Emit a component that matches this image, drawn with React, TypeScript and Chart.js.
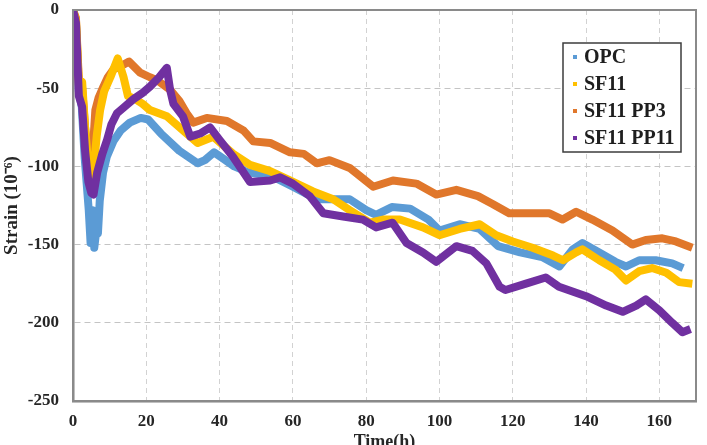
import { useEffect, useRef } from "react";
import { Chart, registerables } from "chart.js";

Chart.register(...registerables);

// Measured strain (10^-6) against elapsed time (h) for each mix.
const opcTime = [0, 0.8, 1.6, 2.4, 3.2, 4.3, 4.8, 5.3, 5.8, 6.4, 6.8, 7.3, 8.2, 9.2, 11, 13, 15.5, 18.5, 20.5, 24, 29, 34, 36, 38.5, 41, 44, 48, 54, 60, 66.5, 70, 75.5, 80, 82.7, 87, 92, 97, 100, 105.5, 111, 116, 122, 128, 132.7, 136.4, 139, 143.6, 148, 150.9, 154.5, 159, 163.5, 166.5];
const opcStrain = [0, -8, -52, -62, -95, -128, -149, -128, -152, -140, -143, -122, -104, -94, -84, -77, -72, -69, -70, -79, -90, -98, -96, -91, -95, -100, -104, -106, -113, -121, -121, -121, -128, -131, -126, -127, -134, -141, -137, -140, -151, -155, -158, -164, -153, -149, -155, -161, -164, -160, -160, -162, -165];

const sf11Time = [0, 0.8, 1.6, 2.5, 3.3, 4.2, 4.8, 5.6, 6.5, 7.4, 8.5, 10.2, 12.2, 13.8, 15, 17, 19, 21, 25.6, 31, 34, 38.3, 43.7, 48.3, 53.8, 59.2, 65.5, 71, 75.5, 81, 84.6, 89.2, 95.5, 100, 105.5, 111, 115.5, 120, 125.4, 131, 133.7, 137.3, 139, 143.6, 148, 150.9, 154.5, 158, 161.9, 165.4, 169];
const sf11Strain = [0, -6, -48, -46, -75, -100, -112, -102, -80, -64, -52, -43, -31, -43, -55, -57, -60, -64, -68, -79, -85, -81, -92, -99, -103, -109, -116, -121, -128, -136, -134, -134, -139, -144, -140, -137, -144, -148, -152, -157, -160, -155, -153, -160, -166, -173, -167, -165, -168, -174, -175];

const sf11pp3Time = [0, 0.8, 1.6, 2.5, 3.3, 4.0, 4.7, 5.4, 6.1, 7, 8.3, 9.5, 11, 13, 15.3, 18.3, 21, 23, 26.5, 29, 31, 32.8, 36.5, 42, 46.5, 49.2, 53.8, 59.2, 63, 66.5, 70, 75.5, 81.9, 87.3, 93.7, 99.1, 104.6, 110.5, 114.5, 119, 123.6, 130, 133.6, 137.3, 141.7, 147.2, 152.6, 156.3, 160.8, 164.5, 169];
const sf11pp3Strain = [0, -5, -45, -50, -75, -95, -107, -90, -64, -56, -49, -43, -38, -36, -33, -40, -43, -45, -51, -58, -66, -72, -69, -71, -77, -84, -85, -91, -92, -98, -96, -101, -113, -109, -111, -118, -115, -119, -124, -130, -130, -130, -134, -129, -134, -141, -150, -147, -146, -148, -152];

const sf11pp11Time = [0, 0.8, 1.6, 2.5, 3.3, 4.2, 5.0, 5.6, 6.6, 8, 9.3, 10.5, 12, 14, 16.5, 19, 21, 23.5, 25.6, 26.5, 27.4, 30, 32, 34.7, 37.4, 40, 43.7, 48.3, 53.8, 56.5, 60, 64.6, 68.3, 73.7, 79.1, 82.7, 87.2, 91, 95.5, 99.1, 104.6, 109, 112.8, 116.4, 118, 123.6, 129, 132.6, 140, 145.5, 150, 153.7, 156.3, 160, 163.5, 166.3, 168.5];
const sf11pp11Strain = [0, -8, -55, -62, -90, -110, -117, -118, -104, -92, -83, -73, -66, -62, -57, -53, -49, -43, -37, -51, -60, -68, -81, -79, -75, -83, -94, -110, -109, -107, -111, -119, -130, -132, -134, -139, -136, -149, -155, -161, -151, -154, -162, -177, -179, -175, -171, -177, -183, -189, -193, -189, -185, -192, -200, -206, -204];

const seriesLabels = ["OPC", "SF11", "SF11 PP3", "SF11 PP11"];
const seriesColors = ["#5b9bd5", "#ffc000", "#e0772b", "#7030a0"];
// lower order is painted on top
const seriesOrder = [4, 2, 3, 1];

const xTicks = [0, 20, 40, 60, 80, 100, 120, 140, 160];
const yTicks = [0, -50, -100, -150, -200, -250];

const SERIF = "'Liberation Serif', 'Times New Roman', Times, serif";

function toPoints(t: number[], v: number[]) {
  return t.map((x, i) => ({ x, y: v[i] }));
}

// grey frame around the plot area
const plotFrame = {
  id: "plotFrame",
  afterDraw(chart: any) {
    const { ctx, chartArea: a } = chart;
    ctx.save();
    ctx.strokeStyle = "#8a8a8a";
    ctx.lineWidth = 2;
    ctx.strokeRect(a.left, a.top, a.right - a.left, a.bottom - a.top);
    ctx.restore();
  },
};

// boxed legend in the upper-right corner of the plot
const boxedLegend = {
  id: "boxedLegend",
  afterDraw(chart: any) {
    const { ctx, chartArea: a } = chart;
    const left = a.right - 133;
    const top = a.top + 33;
    const w = 118;
    const h = 109;
    ctx.save();
    ctx.fillStyle = "#ffffff";
    ctx.fillRect(left, top, w, h);
    ctx.strokeStyle = "#3c3c3c";
    ctx.lineWidth = 1.5;
    ctx.strokeRect(left, top, w, h);
    ctx.font = `bold 20px ${SERIF}`;
    ctx.textBaseline = "middle";
    chart.data.datasets.forEach((ds: any, i: number) => {
      const y = top + 14 + i * 27;
      ctx.fillStyle = ds.borderColor;
      ctx.fillRect(left + 10, y - 2, 4, 4);
      ctx.fillStyle = "#1e1e1e";
      ctx.fillText(ds.label, left + 21, y + 1);
    });
    ctx.restore();
  },
};

export default function App() {
  const canvasRef = useRef<HTMLCanvasElement | null>(null);

  useEffect(() => {
    const canvas = canvasRef.current;
    if (!canvas) return;
    const times = [opcTime, sf11Time, sf11pp3Time, sf11pp11Time];
    const strains = [opcStrain, sf11Strain, sf11pp3Strain, sf11pp11Strain];

    const chart = new Chart(canvas, {
      type: "line",
      data: {
        datasets: seriesLabels.map((label, i) => ({
          label,
          data: toPoints(times[i], strains[i]),
          borderColor: seriesColors[i],
          backgroundColor: seriesColors[i],
          borderWidth: 8,
          pointRadius: 0,
          pointStyle: "rect",
          tension: 0,
          borderJoinStyle: "round",
          order: seriesOrder[i],
        })),
      },
      options: {
        animation: false,
        responsive: false,
        maintainAspectRatio: false,
        layout: { padding: { top: 10, right: 11, bottom: 0, left: 0 } },
        plugins: {
          legend: { display: false },
          tooltip: { enabled: false },
        },
        scales: {
          x: {
            type: "linear",
            min: 0,
            max: 170,
            afterBuildTicks: (scale: any) => {
              scale.ticks = xTicks.map((value) => ({ value }));
            },
            afterFit: (scale: any) => {
              scale.height = 44;
              scale.paddingLeft = 0;
              scale.paddingRight = 0;
            },
            grid: {
              color: "#d2d2d2",
              lineWidth: 1,
              drawTicks: false,
            },
            border: { display: true, color: "#808080", width: 2.5, dash: [5, 4] },
            ticks: {
              padding: 10,
              color: "#262626",
              font: { family: SERIF, size: 17, weight: "bold" },
            },
            title: {
              display: true,
              text: "Time(h)",
              color: "#262626",
              font: { family: SERIF, size: 18, weight: "bold" },
              padding: { top: 0, bottom: -8 },
            },
          },
          y: {
            type: "linear",
            min: -250,
            max: 0,
            afterBuildTicks: (scale: any) => {
              scale.ticks = yTicks.map((value) => ({ value }));
            },
            afterFit: (scale: any) => {
              scale.width = 73;
              scale.paddingTop = 0;
              scale.paddingBottom = 0;
            },
            grid: {
              color: "#c4c4c4",
              lineWidth: 1,
              drawTicks: false,
            },
            border: { display: true, color: "#808080", width: 2.5, dash: [6, 4] },
            ticks: {
              padding: 14,
              color: "#262626",
              font: { family: SERIF, size: 17, weight: "bold" },
            },
            title: {
              display: true,
              text: "Strain (10\u207B\u2076)",
              color: "#262626",
              font: { family: SERIF, size: 19, weight: "bold" },
              padding: { top: 1, bottom: 0 },
            },
          },
        },
      },
      plugins: [plotFrame, boxedLegend],
    });

    return () => chart.destroy();
  }, []);

  return (
    <div style={{ position: "fixed", left: 0, top: 0, width: 707, height: 445, background: "#ffffff" }}>
      <canvas ref={canvasRef} width={707} height={445} style={{ display: "block" }} />
    </div>
  );
}
